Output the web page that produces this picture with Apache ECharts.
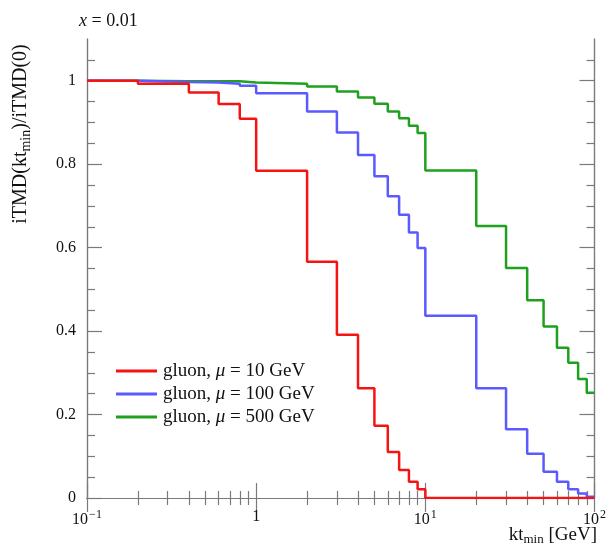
<!DOCTYPE html>
<html>
<head>
    <meta charset="utf-8">
    <script src="https://cdn.jsdelivr.net/npm/echarts@6.0.0/dist/echarts.min.js"></script>
    <style>
        html, body { margin: 0; padding: 0; background: #fff; }
        #main { width: 609px; height: 544px; }
    </style>
</head>
<body>
<div id="main"></div>
<script>
    // bin edges of the kt_min histogram (GeV)
    var edges = [0.1, 0.2, 0.4, 0.6, 0.8, 1, 2, 3, 4, 5, 6, 7, 8, 9, 10, 20, 30, 40, 50, 60, 70, 80, 90, 100];
    // one value per bin
    var red = [1.0, 0.993, 0.972, 0.944, 0.909, 0.784, 0.566, 0.391, 0.263, 0.173, 0.110, 0.067, 0.039, 0.021,
        0, 0, 0, 0, 0, 0, 0, 0, 0];
    var blue = [1.0, 0.997, 0.996, 0.993, 0.988, 0.970, 0.926, 0.876, 0.822, 0.771, 0.723, 0.679, 0.636, 0.599,
        0.437, 0.263, 0.165, 0.106, 0.063, 0.039, 0.021, 0.011, 0.003];
    var green = [1.0, 0.999, 0.999, 0.999, 0.996, 0.993, 0.986, 0.974, 0.960, 0.945, 0.926, 0.910, 0.892, 0.875,
        0.785, 0.652, 0.551, 0.474, 0.411, 0.360, 0.324, 0.285, 0.252];
    var seriesNames = ['mu10', 'mu100', 'mu500'];
    var legendLabels = {
        mu10: 'gluon, {i|μ} = 10 GeV',
        mu100: 'gluon, {i|μ} = 100 GeV',
        mu500: 'gluon, {i|μ} = 500 GeV'
    };
    var xMajor = [0.1, 1, 10, 100];
    var xMinor = [0.2, 0.3, 0.4, 0.5, 0.6, 0.7, 0.8, 0.9, 2, 3, 4, 5, 6, 7, 8, 9, 20, 30, 40, 50, 60, 70, 80, 90];
    var yMajor = [0, 0.2, 0.4, 0.6, 0.8, 1];
    var yMinor = [0.05, 0.1, 0.15, 0.25, 0.3, 0.35, 0.45, 0.5, 0.55, 0.65, 0.7, 0.75, 0.85, 0.9, 0.95, 1.05];

    var font = 'Liberation Serif';
    var axisGrey = '#7a7a7a';

    function steps(vals) {
        return edges.map(function (e, i) {
            return [e, vals[Math.min(i, vals.length - 1)]];
        });
    }

    function xAxis(pos, ticks, len, labels) {
        return {
            type: 'log', logBase: 10, min: 0.1, max: 100, position: pos,
            axisLine: { show: true, lineStyle: { color: axisGrey, width: 1.2 } },
            axisTick: { show: true, inside: true, length: len, customValues: ticks,
                lineStyle: { color: axisGrey, width: 1.2 } },
            axisLabel: labels ? {
                show: true, customValues: xMajor, margin: 11,
                fontFamily: font, fontSize: 16, color: '#111',
                formatter: function (v) {
                    var p = Math.round(Math.log10(v));
                    if (p === 0) return '1';
                    return '10{sup|' + (p < 0 ? '\u2212' + (-p) : p) + '}';
                },
                rich: { sup: { fontFamily: font, fontSize: 12, verticalAlign: 'bottom', padding: [0, 0, 9, 1], color: '#111' } }
            } : { show: false },
            splitLine: { show: false }
        };
    }

    function yAxis(pos, ticks, len, labels) {
        return {
            type: 'value', min: 0, max: 1.1, position: pos,
            axisLine: { show: true, lineStyle: { color: axisGrey, width: 1.2 } },
            axisTick: { show: true, inside: true, length: len, customValues: ticks,
                lineStyle: { color: axisGrey, width: 1.2 } },
            axisLabel: labels ? {
                show: true, customValues: yMajor, margin: 11,
                fontFamily: font, fontSize: 16, color: '#111',
                formatter: function (v) { return String(Math.round(v * 10) / 10); }
            } : { show: false },
            splitLine: { show: false }
        };
    }

    var chart = echarts.init(document.getElementById('main'));
    var option = {
        backgroundColor: '#fff',
        animation: false,
        title: {
            text: '{i|x} = 0.01',
            left: 74, top: 7,
            textStyle: {
                fontFamily: font, fontSize: 18, fontWeight: 'normal', color: '#111',
                rich: { i: { fontFamily: font, fontSize: 18, fontStyle: 'italic', color: '#111' } }
            }
        },
        grid: { left: 87, right: 12, top: 39, bottom: 46 },
        xAxis: [
            xAxis('bottom', xMinor, 7, true),
            xAxis('bottom', xMajor, 15, false),
            xAxis('top', xMinor, 7, false),
            xAxis('top', xMajor, 14, false)
        ],
        yAxis: [
            yAxis('left', yMajor, 15, true),
            yAxis('left', yMinor, 8, false),
            yAxis('right', yMajor, 15, false),
            yAxis('right', yMinor, 8, false)
        ],
        legend: {
            data: seriesNames,
            orient: 'vertical',
            left: 111, top: 355,
            icon: 'rect', itemWidth: 41, itemHeight: 3, itemGap: 1,
            formatter: function (name) { return legendLabels[name]; },
            textStyle: {
                fontFamily: font, fontSize: 19, color: '#111', lineHeight: 22, padding: [0, 0, 0, 1],
                rich: { i: { fontFamily: font, fontSize: 19, fontStyle: 'italic', color: '#111' } }
            }
        },
        graphic: [
            {
                type: 'text', x: 21, y: 134, rotation: Math.PI / 2,
                style: {
                    text: 'iTMD(kt{sub|min})/iTMD(0)',
                    font: '20px "Liberation Serif"', fill: '#111',
                    align: 'center', verticalAlign: 'middle',
                    rich: { sub: { fontFamily: font, fontSize: 14, verticalAlign: 'top', padding: [10, 0, 0, 0], fill: '#111' } }
                }
            },
            {
                type: 'text', right: 12, top: 526,
                style: {
                    text: 'kt{sub|min} [GeV]',
                    font: '19px "Liberation Serif"', fill: '#111',
                    rich: { sub: { fontFamily: font, fontSize: 13, verticalAlign: 'top', padding: [9, 0, 0, 0], fill: '#111' } }
                }
            }
        ],
        series: [
            { name: 'mu500', type: 'line', step: 'end', data: steps(green), showSymbol: false, symbol: 'none',
                color: '#1fa01f', lineStyle: { width: 2.5, color: '#1fa01f' }, z: 3 },
            { name: 'mu100', type: 'line', step: 'end', data: steps(blue), showSymbol: false, symbol: 'none',
                color: '#5a5aff', lineStyle: { width: 2.5, color: '#5a5aff' }, z: 4 },
            { name: 'mu10', type: 'line', step: 'end', data: steps(red), showSymbol: false, symbol: 'none',
                color: '#f41414', lineStyle: { width: 2.5, color: '#f41414' }, z: 5 }
        ]
    };
    chart.setOption(option);
</script>
</body>
</html>
